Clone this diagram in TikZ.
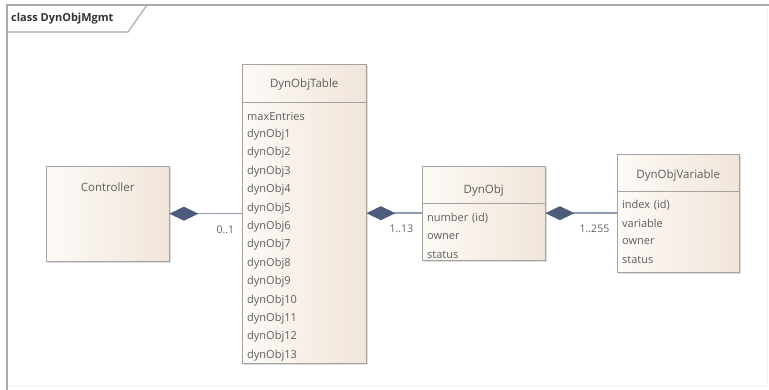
\documentclass[tikz,border=0pt]{standalone}
\usepackage{fontspec}
\setmainfont{Open Sans}
\usetikzlibrary{positioning,arrows.meta,shadows}

\definecolor{clsline}{HTML}{A3A3A3}
\definecolor{clsL}{HTML}{FDFAF6}
\definecolor{clsR}{HTML}{F1E5DA}
\definecolor{txt}{HTML}{5E5E5E}
\definecolor{lnk}{HTML}{8E9CB4}
\definecolor{dia}{HTML}{4E5C7C}
\definecolor{frm}{HTML}{ABABAB}

\begin{document}
\begin{tikzpicture}[x=1pt,y=-1pt,
  cls/.style = {draw=clsline, left color=clsL, right color=clsR, anchor=north west,
    drop shadow={shadow xshift=2pt,shadow yshift=-2pt,opacity=.25}},
  title/.style = {text=txt, font=\fontsize{11.5}{14}\selectfont},
  attr/.style = {text=txt, font=\fontsize{11}{13}\selectfont, inner sep=0pt,
    text width=110pt, align=left, minimum height=18pt, anchor=north west},
  mult/.style = {text=txt, font=\fontsize{10.5}{12}\selectfont, inner sep=0pt, anchor=north east},
  comp/.style = {draw=lnk, line width=1.5pt, -{Diamond[length=29pt,width=14pt,color=dia]}},
  node distance = 0pt]
\useasboundingbox (0,0) rectangle (769,390);

% frame
\draw[gray!10, line width=1pt] (7,386) -- (767,386) -- (767,5);
\draw[frm, line width=2.5pt] (7,390) -- (7,5) -- (769,5);
\draw[frm, line width=1.2pt] (7,32) -- (128,32) -- (147,5);
\node[anchor=west, text=black!80, font=\fontsize{11}{14}\selectfont\bfseries, inner sep=0pt] (frame) at (11,19) {class DynObjMgmt};

% classes
\node[cls, minimum width=123pt, minimum height=95pt] (ctrl) at (46,166) {};
\node[title] at ([yshift=-21pt]ctrl.north) {Controller};

\node[cls, minimum width=124pt, minimum height=299pt] (table) at (242,64) {};
\node[title] at ([yshift=-21pt]table.north) {DynObjTable};
\draw[clsline] ([yshift=-38pt]table.north west) -- ([yshift=-38pt]table.north east);
\node[attr] (t0) at (247,107) {maxEntries};
\node[attr, below=of t0] (t1) {dynObj1};
\node[attr, below=of t1] (t2) {dynObj2};
\node[attr, below=of t2] (t3) {dynObj3};
\node[attr, below=of t3] (t4) {dynObj4};
\node[attr, below=of t4] (t5) {dynObj5};
\node[attr, below=of t5] (t6) {dynObj6};
\node[attr, below=of t6] (t7) {dynObj7};
\node[attr, below=of t7] (t8) {dynObj8};
\node[attr, below=of t8] (t9) {dynObj9};
\node[attr, below=of t9] (t10) {dynObj10};
\node[attr, below=of t10] (t11) {dynObj11};
\node[attr, below=of t11] (t12) {dynObj12};
\node[attr, below=of t12] (t13) {dynObj13};

\node[cls, minimum width=123pt, minimum height=94pt] (obj) at (422,166) {};
\node[title] at ([yshift=-25pt]obj.north) {DynObj};
\draw[clsline] ([yshift=-37pt]obj.north west) -- ([yshift=-37pt]obj.north east);
\node[attr] (o1) at (427,209) {number (id)};
\node[attr, below=of o1] (o2) {owner};
\node[attr, below=of o2] (o3) {status};

\node[cls, minimum width=122pt, minimum height=118pt] (var) at (617,154) {};
\node[title] at ([yshift=-22pt]var.north) {DynObjVariable};
\draw[clsline] ([yshift=-37pt]var.north west) -- ([yshift=-37pt]var.north east);
\node[attr] (v1) at (622,196) {index (id)};
\node[attr, below=of v1] (v2) {variable};
\node[attr, below=of v2] (v3) {owner};
\node[attr, below=of v3] (v4) {status};

% associations
\draw[comp] (ctrl.east -| table.west) -- (ctrl.east)
  node[mult, pos=0, xshift=-7pt, yshift=-11pt] {0..1};
\draw[comp] (obj.west) -- (obj.west -| table.east)
  node[mult, pos=0, xshift=-8pt, yshift=-11pt] {1..13};
\draw[comp] (var.west) -- (obj.east)
  node[mult, pos=0, xshift=-7pt, yshift=-11pt] {1..255};
\end{tikzpicture}
\end{document}
